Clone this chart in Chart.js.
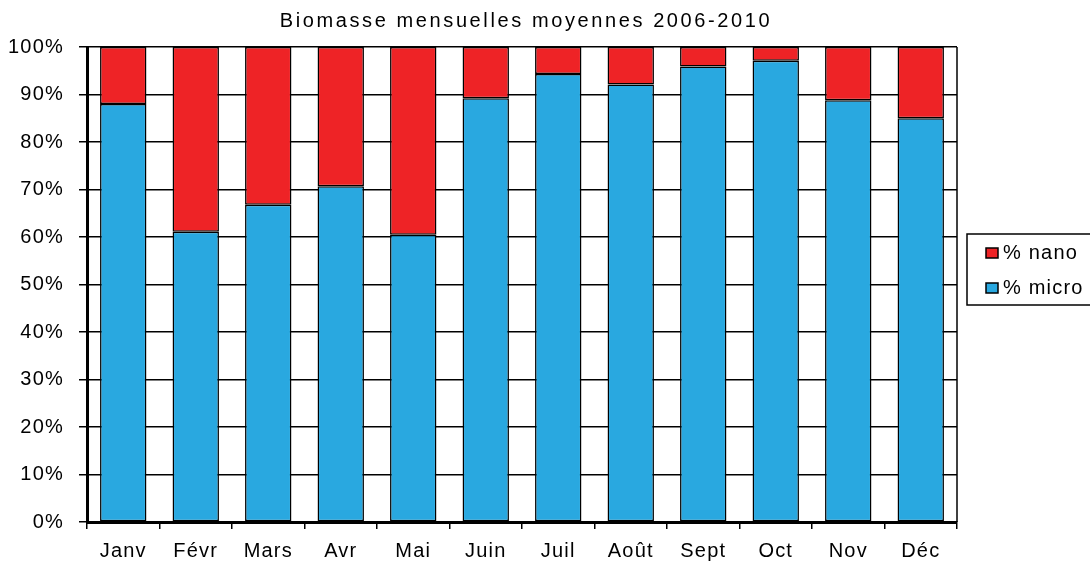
<!DOCTYPE html>
<html>
<head>
<meta charset="utf-8">
<script src="https://cdn.jsdelivr.net/npm/chart.js@4/dist/chart.umd.min.js"></script>
<style>
  html, body { margin: 0; padding: 0; background: #fff; }
  canvas { display: block; }
</style>
</head>
<body>
<canvas id="chart" width="1090" height="561"></canvas>
<script>
// monthly biomass share (%)
const months = ["Janv", "Févr", "Mars", "Avr", "Mai", "Juin", "Juil", "Août", "Sept", "Oct", "Nov", "Déc"];
const microPct = [88.0, 61.1, 66.8, 70.7, 60.5, 89.2, 94.3, 92.1, 95.9, 97.1, 88.8, 85.0];
const nanoPct = [12.0, 38.9, 33.2, 29.3, 39.5, 10.8, 5.7, 7.9, 4.1, 2.9, 11.2, 15.0];
const yTicks = [0, 10, 20, 30, 40, 50, 60, 70, 80, 90, 100];
const chartTitle = "Biomasse mensuelles moyennes 2006-2010";

const FONT = '"Liberation Sans", Arial, sans-serif';
const RED = "#EE2326";
const BLUE = "#29A8E0";

// title, right border and boxed legend are drawn by hand
const decorations = {
    id: "decorations",
    beforeDraw(chart) {
        chart.ctx.letterSpacing = "1.2px";
    },
    afterDraw(chart) {
        const ctx = chart.ctx;
        const area = chart.chartArea;
        ctx.save();

        // right frame line
        ctx.strokeStyle = "#000";
        ctx.lineWidth = 1.5;
        ctx.beginPath();
        ctx.moveTo(area.right, area.top);
        ctx.lineTo(area.right, area.bottom);
        ctx.stroke();

        // title
        ctx.fillStyle = "#000";
        ctx.font = "20px " + FONT;
        ctx.letterSpacing = "2.6px";
        ctx.textAlign = "center";
        ctx.textBaseline = "middle";
        ctx.fillText(chartTitle, 526, 21);

        // legend box
        ctx.letterSpacing = "1.2px";
        ctx.lineWidth = 1.5;
        ctx.strokeRect(967, 234, 140, 71);
        const items = chart.data.datasets.slice().reverse();
        items.forEach((ds, i) => {
            const cy = 253 + i * 35;
            ctx.fillStyle = ds.backgroundColor;
            ctx.fillRect(986, cy - 5, 12, 10);
            ctx.strokeRect(986, cy - 5, 12, 10);
            ctx.fillStyle = "#000";
            ctx.textAlign = "left";
            ctx.fillText(ds.label, 1003, cy);
        });
        ctx.restore();
    }
};

new Chart(document.getElementById("chart"), {
    type: "bar",
    data: {
        labels: months,
        datasets: [
            {
                label: "% micro",
                data: microPct,
                backgroundColor: BLUE,
                borderColor: "#000",
                borderWidth: 1.5,
                borderSkipped: false,
            },
            {
                label: "% nano",
                data: nanoPct,
                backgroundColor: RED,
                borderColor: "#000",
                borderWidth: 1.5,
                borderSkipped: false,
            },
        ],
    },
    options: {
        responsive: false,
        animation: false,
        events: [],
        layout: { padding: { top: 47, right: 133, left: 0, bottom: 0 } },
        datasets: { bar: { barPercentage: 0.64, categoryPercentage: 1 } },
        plugins: {
            legend: { display: false },
            title: { display: false },
            tooltip: { enabled: false },
        },
        scales: {
            x: {
                stacked: true,
                offset: true,
                afterFit: (scale) => { scale.height = 39; },
                grid: {
                    offset: true,
                    drawOnChartArea: false,
                    drawTicks: true,
                    tickLength: 7,
                    color: "#000",
                    lineWidth: 1.5,
                },
                border: { display: true, color: "#000", width: 3 },
                ticks: {
                    color: "#000",
                    font: { family: FONT, size: 20 },
                    padding: 10,
                    maxRotation: 0,
                    autoSkip: false,
                },
            },
            y: {
                stacked: true,
                min: 0,
                max: 100,
                afterFit: (scale) => { scale.width = 87; },
                afterBuildTicks: (scale) => { scale.ticks = yTicks.map((v) => ({ value: v })); },
                grid: {
                    color: "#000",
                    lineWidth: 1.5,
                    drawTicks: true,
                    tickLength: 8,
                },
                border: { display: true, color: "#000", width: 3 },
                ticks: {
                    color: "#000",
                    font: { family: FONT, size: 20 },
                    padding: 15,
                    callback: (v) => v + "%",
                },
            },
        },
    },
    plugins: [decorations],
});
</script>
</body>
</html>
